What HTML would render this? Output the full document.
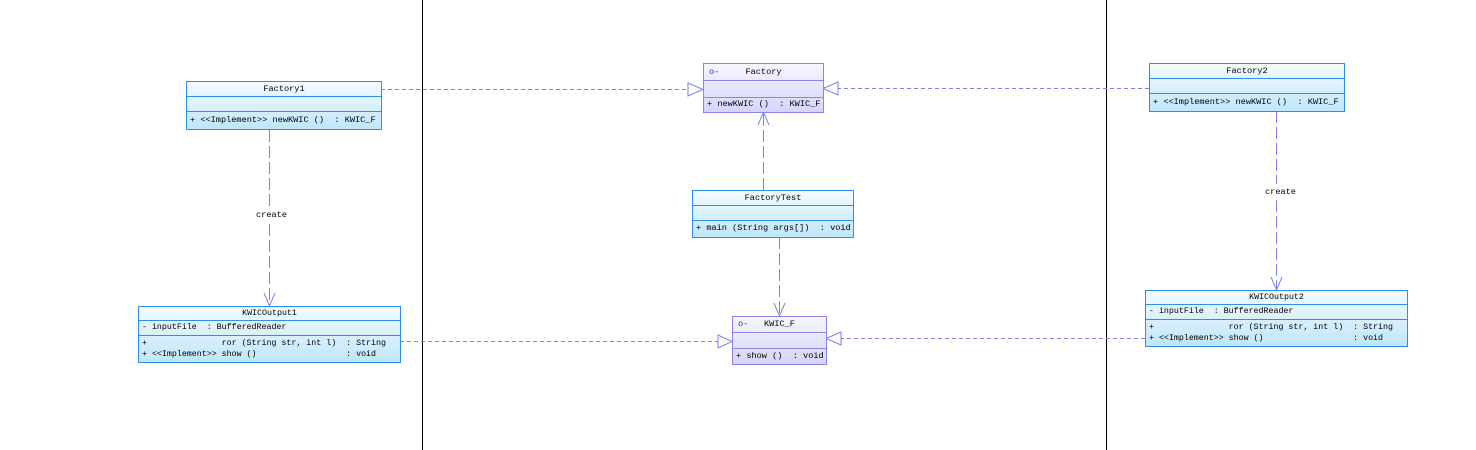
<!DOCTYPE html>
<html><head><meta charset="utf-8"><style>
body{margin:0;width:1476px;height:450px;background:#fff;position:relative;overflow:hidden;font-family:"Liberation Mono",monospace;font-size:8.6px;color:#000}
.c{position:absolute;box-sizing:border-box;border:1px solid #2c8ef0;background:linear-gradient(#f4fbff,#bfe6fb)}
.i{border-color:#8a84ee;background:linear-gradient(#f6f6ff,#d6d4fb)}
.r{border-bottom:1px solid #2c8ef0;box-sizing:border-box;white-space:pre;padding-left:3px;line-height:12px}
.i .r{border-bottom-color:#8a84ee}
.r:last-child{border-bottom:none}
.t{text-align:center;padding:0}
.l{position:absolute;white-space:pre}
</style></head><body>
<svg width="1476" height="450" style="position:absolute;left:0;top:0">
<line x1="422.5" y1="0" x2="422.5" y2="450" stroke="#000"/>
<line x1="1106.5" y1="0" x2="1106.5" y2="450" stroke="#000"/>
<g stroke="#7f7ff0" fill="none" stroke-dasharray="4,3">
<line x1="381" y1="89.5" x2="688" y2="89.5"/>
<line x1="1149" y1="88.5" x2="838" y2="88.5"/>
<line x1="400" y1="341.5" x2="718" y2="341.5"/>
<line x1="1145" y1="338.5" x2="841" y2="338.5"/>
</g>
<g stroke="#7f7ff0" fill="none" stroke-dasharray="12,4">
<line x1="763.5" y1="190" x2="763.5" y2="113"/>
<line x1="779.5" y1="237" x2="779.5" y2="315"/>
<line x1="269.5" y1="130" x2="269.5" y2="207"/>
<line x1="269.5" y1="224" x2="269.5" y2="305"/>
<line x1="1276.5" y1="111" x2="1276.5" y2="184"/>
<line x1="1276.5" y1="200" x2="1276.5" y2="289"/>
</g>
<g stroke="#7f7ff0" fill="#fff">
<polygon points="703,89.5 688,83 688,96"/>
<polygon points="823,88.5 838,82 838,95"/>
<polygon points="732,341.5 718,335 718,348"/>
<polygon points="826,338.5 841,332 841,345"/>
</g>
<g stroke="#7f7ff0" fill="none">
<polyline points="758,125 763.5,112 769,125"/>
<polyline points="774,303 779.5,316 785,303"/>
<polyline points="264,293 269.5,306 275,293"/>
<polyline points="1271,277 1276.5,290 1282,277"/>
</g>
</svg>
<div class="l" style="left:256px;top:210px">create</div>
<div class="l" style="left:1265px;top:187px">create</div>

<div class="c" style="left:186px;top:81px;width:196px;height:49px">
<div class="r t" style="height:15px;line-height:14px">Factory1</div>
<div class="r" style="height:15px"></div>
<div class="r" style="height:17px;line-height:16px">+ &lt;&lt;Implement&gt;&gt; newKWIC ()  : KWIC_F</div></div>

<div class="c i" style="left:703px;top:63px;width:121px;height:50px">
<div class="r t" style="height:17px;line-height:16px"><span style="position:absolute;left:5px;color:#2020c0">o-</span>Factory</div>
<div class="r" style="height:17px"></div>
<div class="r" style="height:14px;line-height:13px">+ newKWIC ()  : KWIC_F</div></div>

<div class="c" style="left:1149px;top:63px;width:196px;height:49px">
<div class="r t" style="height:15px;line-height:14px">Factory2</div>
<div class="r" style="height:15px"></div>
<div class="r" style="height:17px;line-height:16px">+ &lt;&lt;Implement&gt;&gt; newKWIC ()  : KWIC_F</div></div>

<div class="c" style="left:692px;top:190px;width:162px;height:48px">
<div class="r t" style="height:15px;line-height:14px">FactoryTest</div>
<div class="r" style="height:15px"></div>
<div class="r" style="height:16px;line-height:15px">+ main (String args[])  : void</div></div>

<div class="c i" style="left:732px;top:316px;width:95px;height:49px">
<div class="r t" style="height:16px;line-height:15px"><span style="position:absolute;left:5px;color:#2020c0">o-</span>KWIC_F</div>
<div class="r" style="height:16px"></div>
<div class="r" style="height:15px;line-height:14px">+ show ()  : void</div></div>

<div class="c" style="left:138px;top:306px;width:263px;height:57px;font-size:8.3px">
<div class="r t" style="height:14px;line-height:13px">KWICOutput1</div>
<div class="r" style="height:15px;line-height:14px">- inputFile  : BufferedReader</div>
<div class="r" style="height:26px;line-height:11px;padding-top:2px">+               ror (String str, int l)  : String
+ &lt;&lt;Implement&gt;&gt; show ()                  : void</div></div>

<div class="c" style="left:1145px;top:290px;width:263px;height:57px;font-size:8.3px">
<div class="r t" style="height:14px;line-height:13px">KWICOutput2</div>
<div class="r" style="height:15px;line-height:14px">- inputFile  : BufferedReader</div>
<div class="r" style="height:26px;line-height:11px;padding-top:2px">+               ror (String str, int l)  : String
+ &lt;&lt;Implement&gt;&gt; show ()                  : void</div></div>
</body></html>
